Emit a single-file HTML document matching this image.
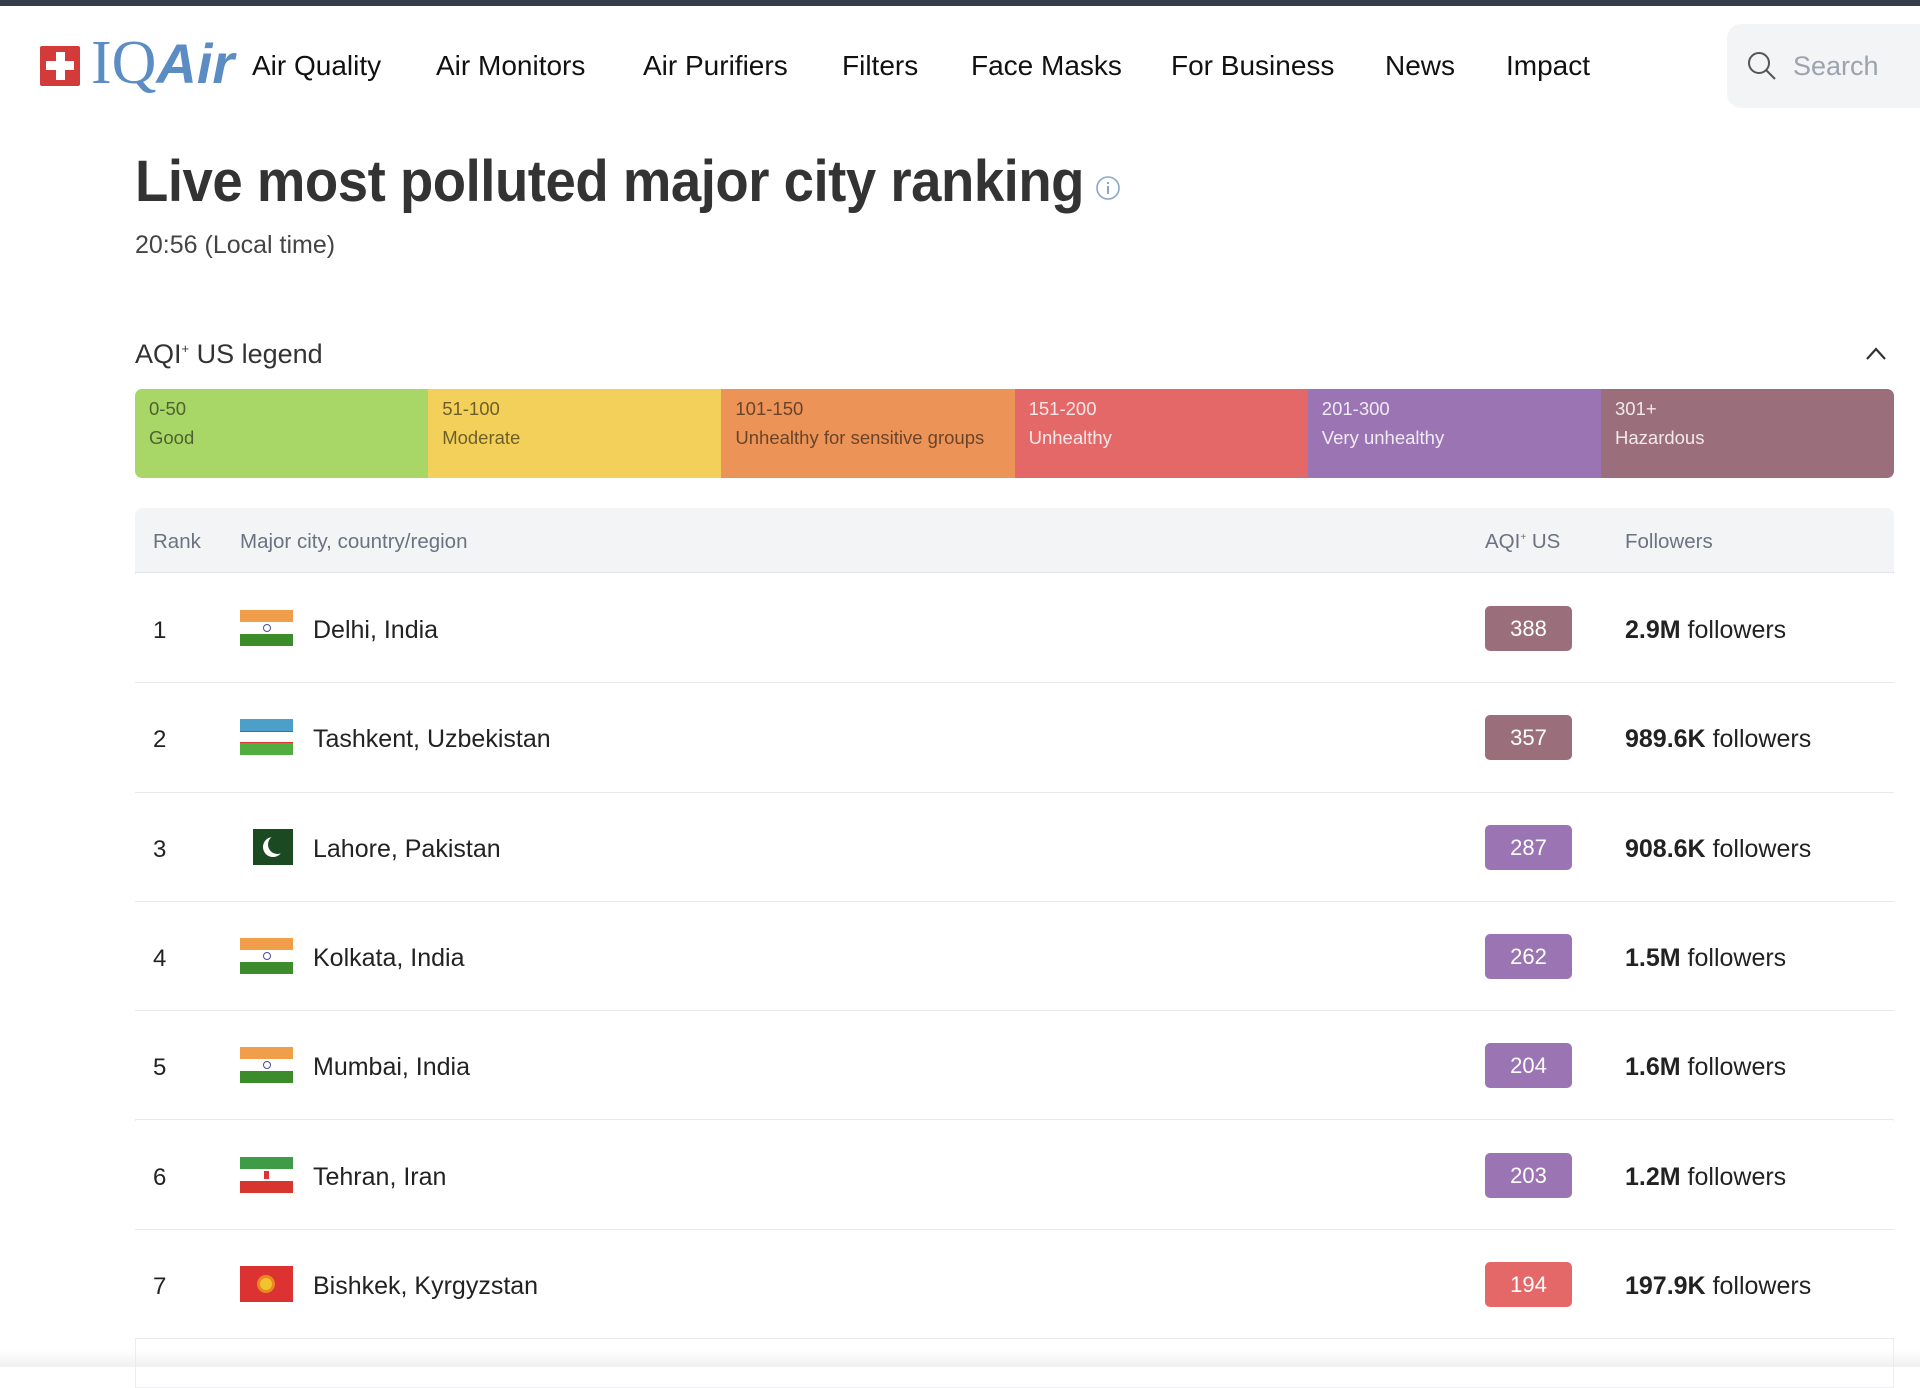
<!DOCTYPE html>
<html><head><meta charset="utf-8"><style>
*{margin:0;padding:0;box-sizing:border-box}
body{width:1920px;height:1367px;background:#fff;font-family:"Liberation Sans",sans-serif;position:relative;overflow:hidden;color:#222}
.abs{position:absolute;white-space:nowrap}
.nav{top:50px;font-size:28px;color:#111}
.seg{position:absolute;top:0;height:89px;width:293.2px;font-size:18.5px;padding:5px 14px;line-height:29px;color:rgba(0,0,0,.55)}
.row{position:absolute;left:135px;width:1759px;height:109.3px;border-bottom:1px solid #e8e9ec;background:#fff}
.row .rk{position:absolute;left:18px;top:43px;font-size:24px;color:#222}
.row .fl{position:absolute;left:105px;top:36px;width:53px;height:36px;overflow:hidden}
.row .nm{position:absolute;left:178px;top:42px;font-size:25px;color:#222}
.row .bd{position:absolute;left:1350px;top:32px;width:87px;height:45px;border-radius:5px;color:#fff;font-size:22px;text-align:center;line-height:45px}
.row .fo{position:absolute;left:1490px;top:42px;font-size:25px;color:#222}
</style></head><body>
<div class="abs" style="left:0;top:0;width:1920px;height:6px;background:#343e4b"></div>
<div class="abs" style="left:40px;top:46px;width:40px;height:40px;background:#d33a3a;border-radius:2px"></div>
<div class="abs" style="left:56px;top:52px;width:9px;height:28px;background:#fff"></div>
<div class="abs" style="left:46px;top:61px;width:28px;height:9px;background:#fff"></div>
<div class="abs" style="left:91px;top:28px;font-family:'Liberation Serif',serif;font-size:62px;color:#5b8cc3">IQ<b style="font-family:'Liberation Sans',sans-serif;font-style:italic;font-size:56px">Air</b></div>
<div class="abs nav" style="left:252px">Air Quality</div>
<div class="abs nav" style="left:436px">Air Monitors</div>
<div class="abs nav" style="left:643px">Air Purifiers</div>
<div class="abs nav" style="left:842px">Filters</div>
<div class="abs nav" style="left:971px">Face Masks</div>
<div class="abs nav" style="left:1171px">For Business</div>
<div class="abs nav" style="left:1385px">News</div>
<div class="abs nav" style="left:1506px">Impact</div>
<div class="abs" style="left:1727px;top:24px;width:220px;height:84px;background:#f3f4f6;border-radius:14px"></div>
<svg class="abs" style="left:1746px;top:50px" width="32" height="32" viewBox="0 0 32 32"><circle cx="13" cy="13" r="10" fill="none" stroke="#555" stroke-width="2"/><line x1="20" y1="20" x2="29" y2="29" stroke="#555" stroke-width="2"/></svg>
<div class="abs" style="left:1793px;top:51px;font-size:27px;color:#9ca3af">Search</div>
<div class="abs" style="left:135px;top:148px;font-size:58px;font-weight:bold;color:#333;transform:scaleX(0.94);transform-origin:left top;letter-spacing:-0.5px">Live most polluted major city ranking</div>
<svg class="abs" style="left:1095px;top:175px" width="26" height="26"><circle cx="13" cy="13" r="11" fill="none" stroke="#8aa4c8" stroke-width="1.6"/><rect x="12" y="11" width="2" height="8" fill="#8aa4c8"/><rect x="12" y="7" width="2" height="2" fill="#8aa4c8"/></svg>
<div class="abs" style="left:135px;top:231px;font-size:25px;color:#444">20:56 (Local time)</div>
<div class="abs" style="left:135px;top:339px;font-size:27px;color:#333">AQI<sup style="font-size:13px">+</sup> US legend</div>
<svg class="abs" style="left:1864px;top:344px" width="24" height="18"><polyline points="3,15 12,5 21,15" fill="none" stroke="#333" stroke-width="2.2"/></svg>
<div class="abs" style="left:135px;top:389px;width:1759px;height:89px;border-radius:7px;overflow:hidden">
<div class="seg" style="left:0;background:#a8d767">0-50<br>Good</div>
<div class="seg" style="left:293.2px;background:#f2d05a">51-100<br>Moderate</div>
<div class="seg" style="left:586.4px;background:#ec9458">101-150<br>Unhealthy for sensitive groups</div>
<div class="seg" style="left:879.6px;background:#e46868;color:rgba(255,255,255,.85)">151-200<br>Unhealthy</div>
<div class="seg" style="left:1172.8px;background:#9b74b3;color:rgba(255,255,255,.85)">201-300<br>Very unhealthy</div>
<div class="seg" style="left:1466px;background:#9b6e7b;color:rgba(255,255,255,.85)">301+<br>Hazardous</div>
</div>
<div class="abs" style="left:135px;top:508px;width:1759px;height:880px;border:1px solid #eceef1;border-radius:8px 8px 0 0;background:#fff"></div>
<div class="abs" style="left:135px;top:508px;width:1759px;height:65px;background:#f3f4f6;border-bottom:1px solid #e3e5e8;border-radius:8px 8px 0 0"></div>
<div class="abs" style="left:153px;top:530px;font-size:20.5px;color:#6b7280">Rank</div>
<div class="abs" style="left:240px;top:530px;font-size:20.5px;color:#6b7280">Major city, country/region</div>
<div class="abs" style="left:1485px;top:530px;font-size:20.5px;color:#6b7280">AQI<sup style="font-size:10px">+</sup> US</div>
<div class="abs" style="left:1625px;top:530px;font-size:20.5px;color:#6b7280">Followers</div>

<div class="row" style="top:574px"><div class="rk">1</div><div class="fl"><div style="height:12px;background:#f19e4a"></div><div style="height:12px;background:#fff;position:relative"><div style="position:absolute;left:23px;top:2px;width:8px;height:8px;border-radius:50%;border:1px solid #4a4aa0"></div></div><div style="height:12px;background:#3c8c2c"></div></div><div class="nm">Delhi, India</div><div class="bd" style="background:#9b6e7b">388</div><div class="fo"><b>2.9M</b> followers</div></div>
<div class="row" style="top:683.3px"><div class="rk">2</div><div class="fl"><div style="height:12px;background:#4b9fc9"></div><div style="height:12px;background:#fff;border-top:1px solid #d33;border-bottom:1px solid #d33"></div><div style="height:12px;background:#52ad40"></div></div><div class="nm">Tashkent, Uzbekistan</div><div class="bd" style="background:#9b6e7b">357</div><div class="fo"><b>989.6K</b> followers</div></div>
<div class="row" style="top:792.6px"><div class="rk">3</div><div class="fl" style="left:118px;width:40px;background:#1b4a22"><div style="position:absolute;left:10px;top:8px;width:20px;height:20px;border-radius:50%;background:#fff"></div><div style="position:absolute;left:15px;top:6px;width:19px;height:19px;border-radius:50%;background:#1b4a22"></div></div><div class="nm">Lahore, Pakistan</div><div class="bd" style="background:#9b74b3">287</div><div class="fo"><b>908.6K</b> followers</div></div>
<div class="row" style="top:901.9px"><div class="rk">4</div><div class="fl"><div style="height:12px;background:#f19e4a"></div><div style="height:12px;background:#fff;position:relative"><div style="position:absolute;left:23px;top:2px;width:8px;height:8px;border-radius:50%;border:1px solid #4a4aa0"></div></div><div style="height:12px;background:#3c8c2c"></div></div><div class="nm">Kolkata, India</div><div class="bd" style="background:#9b74b3">262</div><div class="fo"><b>1.5M</b> followers</div></div>
<div class="row" style="top:1011.2px"><div class="rk">5</div><div class="fl"><div style="height:12px;background:#f19e4a"></div><div style="height:12px;background:#fff;position:relative"><div style="position:absolute;left:23px;top:2px;width:8px;height:8px;border-radius:50%;border:1px solid #4a4aa0"></div></div><div style="height:12px;background:#3c8c2c"></div></div><div class="nm">Mumbai, India</div><div class="bd" style="background:#9b74b3">204</div><div class="fo"><b>1.6M</b> followers</div></div>
<div class="row" style="top:1120.5px"><div class="rk">6</div><div class="fl"><div style="height:12px;background:#3f9b48"></div><div style="height:12px;background:#fff;position:relative"><div style="position:absolute;left:24px;top:2px;width:5px;height:8px;background:#d33"></div></div><div style="height:12px;background:#d8352f"></div></div><div class="nm">Tehran, Iran</div><div class="bd" style="background:#9b74b3">203</div><div class="fo"><b>1.2M</b> followers</div></div>
<div class="row" style="top:1229.8px"><div class="rk">7</div><div class="fl" style="background:#dc3232"><div style="position:absolute;left:17px;top:9px;width:18px;height:18px;border-radius:50%;background:#f2c230;border:3px solid #e88a20"></div></div><div class="nm">Bishkek, Kyrgyzstan</div><div class="bd" style="background:#e46868">194</div><div class="fo"><b>197.9K</b> followers</div></div>
<div class="abs" style="left:0;top:1350px;width:1920px;height:17px;background:linear-gradient(rgba(240,240,240,0),rgba(230,230,230,.6))"></div>
</body></html>
